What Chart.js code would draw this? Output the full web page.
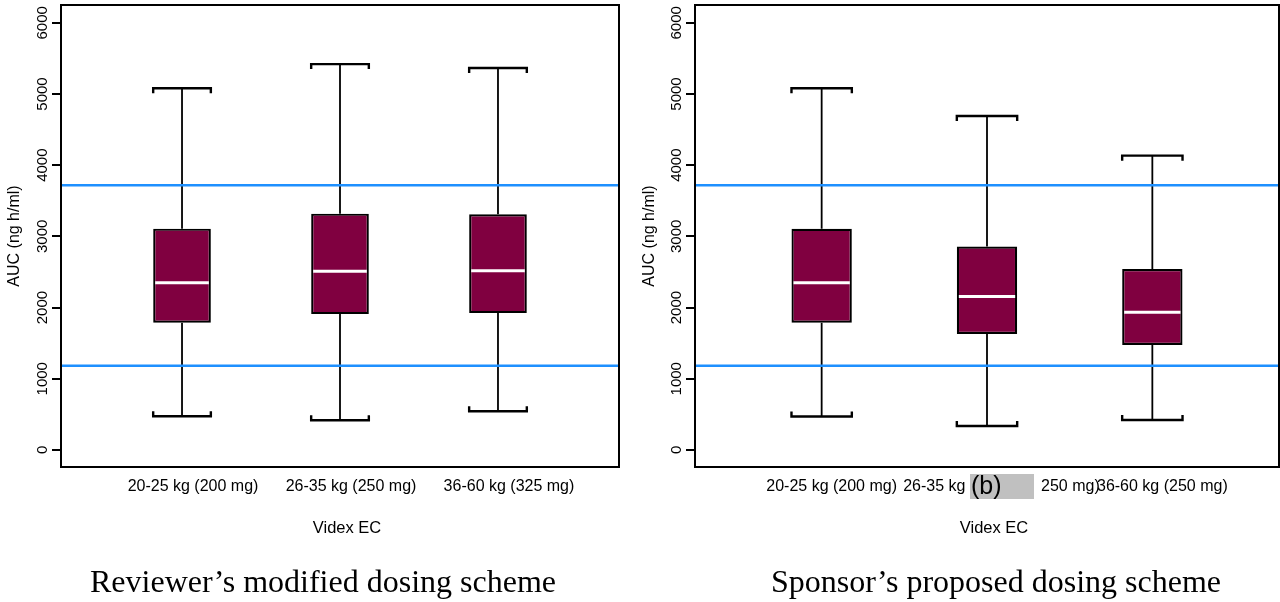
<!DOCTYPE html>
<html>
<head>
<meta charset="utf-8">
<script src="https://cdn.jsdelivr.net/npm/chart.js@4.4.0/dist/chart.umd.min.js"></script>
<style>
    html, body { margin: 0; padding: 0; background: #fff; }
    #wrap { position: relative; width: 1280px; height: 602px; }
    .panel { position: absolute; top: 0; width: 640px; height: 602px; }
</style>
</head>
<body>
<div id="wrap">
    <div class="panel" style="left:0"><canvas id="reviewer" width="640" height="602"></canvas></div>
    <div class="panel" style="left:640px"><canvas id="sponsor" width="640" height="602"></canvas></div>
</div>
<script>
// AUC (ng h/ml) box plot statistics
const reviewerGroups = ["20-25 kg (200 mg)", "26-35 kg (250 mg)", "36-60 kg (325 mg)"];
const reviewerLow = [473, 417, 543];
const reviewerQ1 = [1788, 1908, 1922];
const reviewerMedian = [2350, 2509, 2518];
const reviewerQ3 = [3108, 3319, 3310];
const reviewerHigh = [5080, 5420, 5365];

// middle label is partly hidden under the "(b)" tag in the original
const sponsorGroups = ["20-25 kg (200 mg)", "  26-35 kg                 250 mg)", "36-60 kg (250 mg)"];
const sponsorLow = [470, 337, 421];
const sponsorQ1 = [1788, 1629, 1475];
const sponsorMedian = [2350, 2154, 1934];
const sponsorQ3 = [3106, 2857, 2542];
const sponsorHigh = [5080, 4690, 4134];

const refLines = [1184, 3718];
const yTicks = [0, 1000, 2000, 3000, 4000, 5000, 6000];

Chart.defaults.font.family = "'Liberation Sans', Arial, sans-serif";
Chart.defaults.color = "#000";

const boxColor = "#800040";
const refColor = "#1e90ff";

// whiskers, caps, medians, reference lines, frame and the texts under the plot
const boxPlotExtras = {
    id: "boxPlotExtras",
    afterDatasetsDraw(chart, args, opts) {
        const ctx = chart.ctx;
        const x = chart.scales.x;
        const y = chart.scales.y;
        const area = chart.chartArea;
        const bars = chart.getDatasetMeta(0).data;
        ctx.save();
        ctx.lineCap = "butt";
        for (let i = 0; i < opts.median.length; i++) {
            const cx = x.getPixelForValue(i + 1);
            const half = bars[i].width / 2;
            const yLow = y.getPixelForValue(opts.low[i]);
            const yQ1 = y.getPixelForValue(opts.q1[i]);
            const yQ3 = y.getPixelForValue(opts.q3[i]);
            const yHigh = y.getPixelForValue(opts.high[i]);
            const yMed = y.getPixelForValue(opts.median[i]);

            ctx.strokeStyle = "#000";
            ctx.lineWidth = 1.8;
            ctx.beginPath();
            ctx.moveTo(cx, yQ3); ctx.lineTo(cx, yHigh);
            ctx.moveTo(cx, yQ1); ctx.lineTo(cx, yLow);
            ctx.stroke();

            ctx.lineWidth = 2.4;
            ctx.beginPath();
            ctx.moveTo(cx - half, yHigh + 5); ctx.lineTo(cx - half, yHigh);
            ctx.lineTo(cx + half, yHigh); ctx.lineTo(cx + half, yHigh + 5);
            ctx.moveTo(cx - half, yLow - 5); ctx.lineTo(cx - half, yLow);
            ctx.lineTo(cx + half, yLow); ctx.lineTo(cx + half, yLow - 5);
            ctx.stroke();

            ctx.strokeStyle = "#fff";
            ctx.lineWidth = 3;
            ctx.beginPath();
            ctx.moveTo(cx - half + 2, yMed); ctx.lineTo(cx + half - 2, yMed);
            ctx.stroke();
        }

        ctx.strokeStyle = refColor;
        ctx.lineWidth = 2.5;
        refLines.forEach(v => {
            const py = y.getPixelForValue(v);
            ctx.beginPath();
            ctx.moveTo(area.left, py); ctx.lineTo(area.right, py);
            ctx.stroke();
        });

        ctx.strokeStyle = "#000";
        ctx.lineWidth = 2;
        ctx.strokeRect(area.left, area.top, area.right - area.left, area.bottom - area.top);
        ctx.restore();
    },
    afterDraw(chart, args, opts) {
        const ctx = chart.ctx;
        const area = chart.chartArea;
        ctx.save();
        ctx.fillStyle = "#000";
        ctx.textAlign = "center";
        ctx.textBaseline = "middle";
        ctx.font = "16.5px 'Liberation Sans', Arial, sans-serif";
        ctx.fillText(opts.xTitle, (area.left + area.right) / 2 + 7, area.bottom + 61);

        ctx.font = "32px 'Liberation Serif', 'Times New Roman', serif";
        ctx.textBaseline = "alphabetic";
        ctx.fillText(opts.caption, opts.captionX, area.bottom + 125);

        if (opts.tag) {
            const cx = chart.scales.x.getPixelForValue(opts.tag.at);
            const top = area.bottom + 7;
            ctx.fillStyle = "#c0c0c0";
            ctx.fillRect(cx - 17, top, 64, 25);
            ctx.fillStyle = "#000";
            ctx.font = "25px 'Liberation Sans', Arial, sans-serif";
            ctx.textBaseline = "middle";
            ctx.textAlign = "left";
            ctx.fillText(opts.tag.text, cx - 16, top + 13);
        }
        ctx.restore();
    }
};

function drawBoxPanel(canvasID, p) {
    const boxes = p.groups.map((g, i) => ({ x: i + 1, y: [p.q1[i], p.q3[i]] }));

    return new Chart(document.getElementById(canvasID), {
        type: "bar",
        data: {
            datasets: [{
                data: boxes,
                backgroundColor: boxColor,
                borderColor: "#000",
                borderWidth: 2.2,
                borderSkipped: false,
                barPercentage: 0.365,
                categoryPercentage: 1
            }]
        },
        options: {
            responsive: false,
            animation: false,
            layout: { padding: { left: 0, right: p.rightPad, top: 5, bottom: 0 } },
            plugins: {
                legend: { display: false },
                tooltip: { enabled: false },
                boxPlotExtras: {
                    low: p.low, q1: p.q1, median: p.median, q3: p.q3, high: p.high,
                    xTitle: "Videx EC",
                    caption: p.caption,
                    captionX: p.captionX,
                    tag: p.tag
                }
            },
            scales: {
                x: {
                    type: "linear",
                    min: 0.234,
                    max: 3.766,
                    offset: false,
                    grid: { display: false, drawTicks: false },
                    border: { display: false },
                    afterBuildTicks: s => { s.ticks = p.groups.map((g, i) => ({ value: i + 1 })); },
                    ticks: {
                        autoSkip: false,
                        minRotation: 0,
                        maxRotation: 0,
                        padding: 10,
                        labelOffset: p.labelShift,
                        font: { size: 16 },
                        callback: (v, i) => p.groups[i]
                    },
                    afterFit: s => { s.height = 135; }
                },
                y: {
                    type: "linear",
                    min: -240,
                    max: 6250,
                    afterBuildTicks: s => { s.ticks = yTicks.map(v => ({ value: v })); },
                    grid: { drawOnChartArea: false, drawTicks: true, tickLength: 9, color: "#000", lineWidth: 2 },
                    border: { display: false },
                    ticks: {
                        minRotation: 90,
                        maxRotation: 90,
                        crossAlign: "center",
                        padding: -7.7,
                        font: { size: 15 },
                        callback: v => String(v)
                    },
                    title: {
                        display: true,
                        text: "AUC (ng h/ml)",
                        font: { size: 16 },
                        padding: { top: p.titlePad, bottom: 0 }
                    },
                    afterFit: s => { s.width = p.axisWidth; }
                }
            }
        },
        plugins: [boxPlotExtras]
    });
}

drawBoxPanel("reviewer", {
    groups: reviewerGroups, low: reviewerLow, q1: reviewerQ1, median: reviewerMedian,
    q3: reviewerQ3, high: reviewerHigh,
    caption: "Reviewer\u2019s modified dosing scheme", captionX: 323,
    axisWidth: 61, rightPad: 21, titlePad: 5, labelShift: 11
});

drawBoxPanel("sponsor", {
    groups: sponsorGroups, low: sponsorLow, q1: sponsorQ1, median: sponsorMedian,
    q3: sponsorQ3, high: sponsorHigh,
    caption: "Sponsor\u2019s proposed dosing scheme", captionX: 356,
    axisWidth: 55, rightPad: 1, titlePad: 0, labelShift: 10,
    tag: { at: 2, text: "(b)" }
});
</script>
</body>
</html>
